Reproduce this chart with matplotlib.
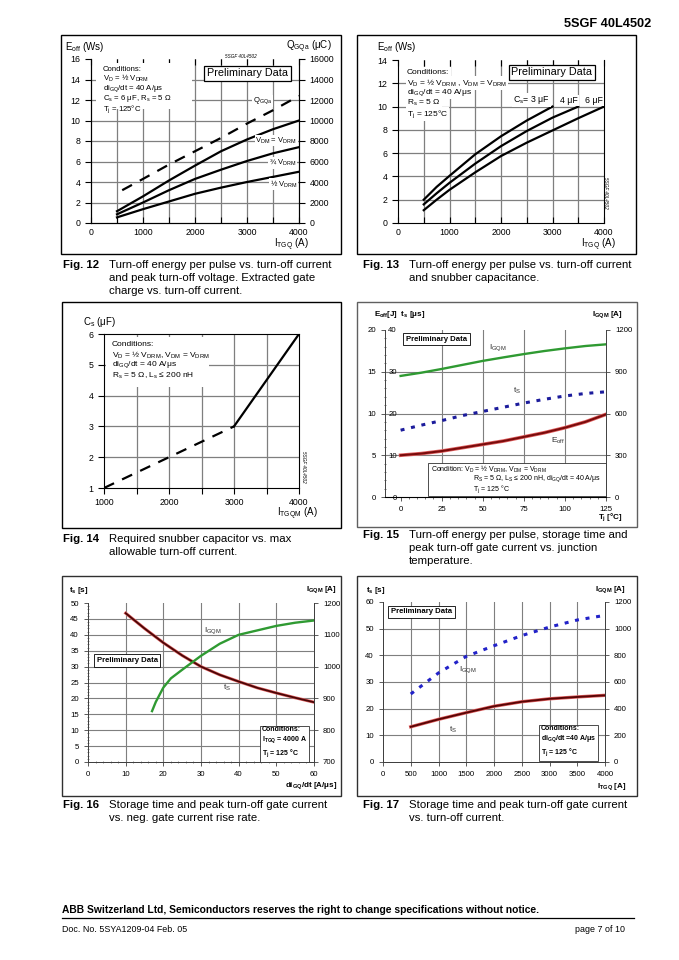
import matplotlib
matplotlib.use("Agg")
import matplotlib.pyplot as plt
from matplotlib.patches import Rectangle

plt.rcParams['font.family'] = ['Liberation Sans', 'DejaVu Sans']
plt.rcParams['mathtext.fontset'] = 'custom'
plt.rcParams['mathtext.rm'] = 'Liberation Sans'
plt.rcParams['mathtext.it'] = 'Liberation Sans:italic'
plt.rcParams['mathtext.bf'] = 'Liberation Sans:bold'
plt.rcParams['mathtext.default'] = 'regular'

# ---- data ----
# Fig 12: Eoff vs ITGQ for three VDM, plus extracted gate charge
i12 = [500, 1000, 1500, 2000, 2500, 3000, 3500, 4000]
eoff12_full = [1.15, 2.6, 4.15, 5.6, 7.0, 8.15, 9.15, 10.0]
eoff12_34 = [0.85, 2.0, 3.2, 4.3, 5.2, 6.05, 6.8, 7.4]
eoff12_12 = [0.55, 1.35, 2.1, 2.85, 3.45, 4.0, 4.5, 5.0]
i12_q = [600, 1000, 1500, 2000, 2500, 3000, 3500, 4000]
qgq12 = [3200, 4300, 5700, 7000, 8300, 9700, 11000, 12400]

# Fig 13: Eoff vs ITGQ for three snubber capacitors
i13 = [500, 750, 1000, 1500, 2000, 2500, 3000, 3500, 4000]
eoff13_3uf = [2.0, 3.1, 4.05, 5.9, 7.45, 8.8, 10.0]
eoff13_4uf = [1.6, 2.55, 3.45, 5.1, 6.6, 7.9, 9.05, 10.0]
eoff13_6uf = [1.1, 2.0, 2.85, 4.35, 5.75, 6.9, 7.95, 9.0, 10.0]

# Fig 14: required snubber capacitor
i14_dash = [1000, 3000]
cs14_dash = [1, 3]
i14_solid = [3000, 4000]
cs14_solid = [3, 6]

# Fig 15: vs junction temperature
tj15 = [0, 12.5, 25, 37.5, 50, 62.5, 75, 87.5, 100, 112.5, 125]
igqm15 = [870, 893, 920, 949, 978, 1003, 1027, 1049, 1068, 1085, 1097]
ts15 = [16.0, 17.2, 18.3, 19.5, 20.5, 21.5, 22.5, 23.4, 24.2, 24.8, 25.2]
eoff15 = [5.0, 5.2, 5.5, 5.9, 6.3, 6.7, 7.2, 7.7, 8.3, 9.0, 9.9]

# Fig 16: vs diGQ/dt
di16_ts = [10, 15, 20, 25, 30, 35, 40, 45, 50, 55, 60]
ts16 = [46.8, 42.0, 37.5, 33.5, 30.0, 27.4, 25.3, 23.3, 21.7, 20.2, 18.8]
di16_ig = [17, 18, 20, 22, 25, 30, 35, 40, 45, 50, 55, 60]
igqm16 = [860, 889, 934, 963, 990, 1034, 1072, 1100, 1114, 1128, 1138, 1145]

# Fig 17: vs ITGQ
itgq17 = [500, 1000, 1500, 2000, 2500, 3000, 3500, 4000]
ts17 = [13.2, 16.0, 18.5, 20.9, 22.6, 23.7, 24.4, 25.0]
igqm17 = [510, 668, 792, 872, 948, 1012, 1065, 1100]

W, H = 679, 960
GRID = '#7f7f7f'
fig = plt.figure(figsize=(W / 100, H / 100), dpi=100)
fig.patch.set_facecolor('white')


def axes_px(l, t, r, b):
    return fig.add_axes([l / W, 1 - b / H, (r - l) / W, (b - t) / H])


def ftext(x, y, s, **kw):
    kw.setdefault('va', 'center')
    return fig.text(x / W, 1 - y / H, s, **kw)


def frame(l, t, r, b, ec='black', lw=1.0, fill=False, z=1):
    fig.add_artist(Rectangle((l / W, 1 - b / H), (r - l) / W, (b - t) / H,
                             transform=fig.transFigure, fill=fill, fc='white',
                             ec=ec, lw=lw, zorder=z))


def caption(x, y, num, lines):
    ftext(x, y, 'Fig. %d' % num, fontsize=8.2, fontweight='bold')
    for k, s in enumerate(lines):
        ftext(x + 46, y + 13 * k, s, fontsize=8.2)


def grid(ax, xs, ys, lw=0.9):
    for x in xs:
        ax.axvline(x, color=GRID, lw=lw, zorder=0)
    for y in ys:
        ax.axhline(y, color=GRID, lw=lw, zorder=0)


prelim_big = dict(boxstyle='square,pad=0.25', fc='white', ec='black', lw=0.9)
prelim_small = dict(boxstyle='square,pad=0.35', fc='white', ec='black', lw=0.6)
white = dict(boxstyle='square,pad=0.1', fc='white', ec='none')

# header / footer
ftext(651, 24, '5SGF 40L4502', fontsize=9.2, fontweight='bold', ha='right')
ftext(62, 910, 'ABB Switzerland Ltd, Semiconductors reserves the right to change specifications without notice.',
      fontsize=7.4, fontweight='bold')
fig.add_artist(plt.Line2D([62 / W, 634 / W], [1 - 918 / H, 1 - 918 / H], color='black', lw=0.9,
                          transform=fig.transFigure))
ftext(62, 930, 'Doc. No. 5SYA1209-04 Feb. 05', fontsize=6.4)
ftext(625, 930, 'page 7 of 10', fontsize=6.4, ha='right')

# ---------------- Fig 12 ----------------
frame(61, 35, 341, 254)
ax = axes_px(91, 59, 299, 223)
ax.set_xlim(0, 4000)
ax.set_ylim(0, 16)
grid(ax, range(500, 4000, 500), range(2, 16, 2))
for ys in (eoff12_full, eoff12_34, eoff12_12):
    ax.plot(i12, ys, color='black', lw=1.6, zorder=3)
ax.set_xticks(range(0, 4001, 1000))
ax.set_xticks(range(500, 4000, 1000), minor=True)
ax.set_yticks(range(0, 17, 2))
ax.tick_params(axis='x', which='both', direction='in', length=4, top=True, labelsize=6.3, width=0.8)
ax.tick_params(axis='y', direction='out', length=4, labelsize=6.3, width=0.8)
axq = ax.twinx()
axq.set_ylim(0, 16000)
axq.plot(i12_q, qgq12, color='black', lw=1.6, dashes=(5, 4))
axq.set_yticks(range(0, 16001, 2000))
axq.tick_params(direction='out', length=4, labelsize=6.3, width=0.8)
for a in (ax, axq):
    a.spines['top'].set_visible(False)
axq.text(3300, 11900, 'Q$_{GQa}$', fontsize=5.5, ha='center', va='center', bbox=white)
axq.text(3560, 8050, 'V$_{DM}$ = V$_{DRM}$', fontsize=5.5, ha='center', va='center', bbox=white)
axq.text(3680, 5850, '¾ V$_{DRM}$', fontsize=5.5, ha='center', va='center', bbox=white)
axq.text(3700, 3800, '½ V$_{DRM}$', fontsize=5.5, ha='center', va='center', bbox=white)
axq.text(3010, 14600, 'Preliminary Data', fontsize=7.8, ha='center', va='center', bbox=prelim_big)
ftext(241, 57, '5SGF 40L4502', fontsize=3.3, style='italic', ha='center')
frame(96, 63, 192, 109, ec='none', lw=0, fill=True, z=2)
ftext(103, 66, 'Conditions:\nV$_D$ = ½ V$_{DRM}$\ndi$_{GQ}$/dt = 40 A/μs\nC$_s$ = 6 μF, R$_s$ = 5 Ω\nT$_j$ = 125°C',
      fontsize=5.6, linespacing=0.92, va='top', zorder=3)
ftext(65, 47, 'E$_{off}$ (Ws)', fontsize=7)
ftext(332, 47, 'Q$_{GQa}$ (μC)', fontsize=7, ha='right')
ftext(309, 245, 'I$_{TGQ}$ (A)', fontsize=7, ha='right')
caption(63, 265, 12, ['Turn-off energy per pulse vs. turn-off current',
                      'and peak turn-off voltage. Extracted gate',
                      'charge vs. turn-off current.'])

# ---------------- Fig 13 ----------------
frame(357, 35, 636, 254)
ax = axes_px(398, 60, 604, 223)
ax.set_xlim(0, 4000)
ax.set_ylim(0, 14)
grid(ax, range(500, 4000, 500), range(2, 14, 2))
ax.plot(i13[:len(eoff13_3uf)], eoff13_3uf, color='black', lw=1.6)
ax.plot(i13[:len(eoff13_4uf)], eoff13_4uf, color='black', lw=1.6)
ax.plot(i13[:len(eoff13_6uf)], eoff13_6uf, color='black', lw=1.6)
ax.set_xticks(range(0, 4001, 1000))
ax.set_xticks(range(500, 4000, 1000), minor=True)
ax.set_yticks(range(0, 15, 2))
ax.tick_params(axis='x', which='both', direction='in', length=4, top=True, labelsize=6.3, width=0.8)
ax.tick_params(axis='y', direction='out', length=4, labelsize=6.3, width=0.8)
ax.spines['top'].set_visible(False)
ax.text(2950, 10.55, 'C$_s$= 3 μF', fontsize=6.3, ha='right', va='center', bbox=white)
ax.text(3495, 10.55, '4 μF', fontsize=6.3, ha='right', va='center', bbox=white)
ax.text(3985, 10.55, '6 μF', fontsize=6.3, ha='right', va='center', bbox=white)
ax.text(2990, 12.95, 'Preliminary Data', fontsize=7.8, ha='center', va='center', bbox=prelim_big)
cond13 = ['Conditions:', 'V$_D$ = ½ V$_{DRM}$ , V$_{DM}$ = V$_{DRM}$', 'di$_{GQ}$/dt = 40 A/μs',
          'R$_s$ = 5 Ω', 'T$_j$ = 125°C']
for s, y in zip(cond13, [72, 83, 92.5, 103, 114]):
    ftext(407, y, s, fontsize=6.0, bbox=dict(boxstyle='square,pad=0.15', fc='white', ec='none'))
ftext(605, 193, '5SGF 40L4502', fontsize=3.3, style='italic', rotation=270, ha='center')
ftext(377, 47, 'E$_{off}$ (Ws)', fontsize=7)
ftext(616, 245, 'I$_{TGQ}$ (A)', fontsize=7, ha='right')
caption(363, 265, 13, ['Turn-off energy per pulse vs. turn-off current',
                       'and snubber capacitance.'])

# ---------------- Fig 14 ----------------
frame(62, 302, 341, 528)
ax = axes_px(104, 334, 299, 488)
ax.set_xlim(1000, 4000)
ax.set_ylim(1, 6)
grid(ax, range(1500, 4000, 500), range(2, 6))
ax.plot(i14_dash, cs14_dash, color='black', lw=1.6, dashes=(5, 4))
ax.plot(i14_solid, cs14_solid, color='black', lw=1.6)
ax.set_xticks(range(1000, 4001, 1000))
ax.set_xticks(range(1500, 4000, 1000), minor=True)
ax.set_yticks(range(1, 7))
ax.tick_params(axis='both', which='both', direction='out', length=4, labelsize=6.3, width=0.8)
frame(106, 337, 209, 387, ec='none', lw=0, fill=True, z=2)
cond14 = ['Conditions:', 'V$_D$ = ½ V$_{DRM}$, V$_{DM}$ = V$_{DRM}$', 'di$_{GQ}$/dt = 40 A/μs',
          'R$_s$ = 5 Ω, L$_s$ ≤ 200 nH']
for s, y in zip(cond14, [344, 355.5, 365, 376]):
    ftext(112, y, s, fontsize=6.0, zorder=3)
ftext(303, 467, '5SGF 40L4502', fontsize=3.3, style='italic', rotation=270, ha='center')
ftext(83, 322, 'C$_s$ (μF)', fontsize=7)
ftext(318, 514, 'I$_{TGQM}$ (A)', fontsize=7, ha='right')
caption(63, 539, 14, ['Required snubber capacitor vs. max',
                      'allowable turn-off current.'])

# ---------------- Fig 15 ----------------
frame(357, 302, 637, 527, ec='#606060')
ax = axes_px(385, 330, 606, 497)
ax.set_xlim(-9.5, 125)
ax.set_ylim(0, 40)
grid(ax, [25, 50, 75, 100], [10, 20, 30], lw=0.8)
ax.plot(tj15, ts15, color='#1c1c9c', lw=2.2, dashes=(1.3, 2.2))
ax.set_xticks([0, 25, 50, 75, 100, 125])
ax.set_xticks(range(0, 126, 5), minor=True)
ax.set_yticks(range(0, 41, 10))
ax.set_yticks(range(0, 41, 2), minor=True)
ax.tick_params(axis='x', which='major', direction='out', length=3, labelsize=5.6, width=0.6, color='#404040')
ax.tick_params(axis='x', which='minor', direction='out', length=1.5, width=0.5, color='#404040')
ax.tick_params(axis='y', which='major', direction='in', length=0, pad=-8.5, labelsize=5.6)
ax.tick_params(axis='y', which='minor', direction='inout', length=2, width=0.5, color='#404040')
for lab in ax.get_yticklabels():
    lab.set_horizontalalignment('right')
ax.spines['top'].set_visible(False)
ax.spines['right'].set_visible(False)
for s in ('left', 'bottom'):
    ax.spines[s].set_color('#404040')
    ax.spines[s].set_linewidth(0.7)
axe = ax.twinx()
axe.set_ylim(0, 20)
axe.yaxis.tick_left()
axe.plot(tj15, eoff15, color='#e06060', lw=2.6)
axe.plot(tj15, eoff15, color='#7a0c0c', lw=1.5)
axe.set_yticks(range(0, 21, 5))
axe.tick_params(axis='y', direction='out', length=3, labelsize=5.6, width=0.6, color='#404040')
for s in ('top', 'right', 'bottom', 'left'):
    axe.spines[s].set_visible(False)
axi = ax.twinx()
axi.set_ylim(0, 1200)
axi.plot(tj15, igqm15, color='#2f9a32', lw=1.7)
axi.set_yticks(range(0, 1201, 300))
axi.tick_params(axis='y', direction='out', length=3, labelsize=5.6, width=0.6, color='#404040')
axi.spines['top'].set_visible(False)
axi.spines['left'].set_visible(False)
axi.spines['right'].set_color('#404040')
axi.spines['right'].set_linewidth(0.7)
axi.text(59, 1070, 'I$_{GQM}$', fontsize=6, ha='center', va='center', color='#303030')
axi.text(71, 763, 't$_S$', fontsize=6, ha='center', va='center', color='#303030')
axi.text(96, 402, 'E$_{off}$', fontsize=6, ha='center', va='center', color='#303030')
axi.text(21.7, 1134, 'Preliminary Data', fontsize=5.6, fontweight='bold', ha='center', va='center',
         bbox=prelim_small)
frame(428, 463, 606, 496, ec='#303030', lw=0.6, fill=True, z=2)
ftext(431, 469, 'Condition: V$_D$ = ½ V$_{DRM}$, V$_{DM}$ = V$_{DRM}$', fontsize=5, zorder=3)
ftext(473, 479, 'R$_S$ = 5 Ω, L$_S$ ≤ 200 nH, di$_{GQ}$/dt = 40 A/μs', fontsize=5, zorder=3)
ftext(473, 489, 'T$_j$ = 125 °C', fontsize=5, zorder=3)
ftext(374, 315, 'E$_{off}$[J]  t$_s$ [μs]', fontsize=5.8, fontweight='bold')
ftext(623, 315, 'I$_{GQM}$ [A]', fontsize=5.8, fontweight='bold', ha='right')
ftext(623, 517, 'T$_j$ [°C]', fontsize=5.8, fontweight='bold', ha='right')
caption(363, 535, 15, ['Turn-off energy per pulse, storage time and',
                       'peak turn-off gate current vs. junction',
                       'temperature.'])

# ---------------- Fig 16 ----------------
frame(62, 576, 341, 796, ec='#303030')
ax = axes_px(88, 603, 314, 762)
ax.set_xlim(0, 60)
ax.set_ylim(0, 50)
grid(ax, range(10, 60, 10), range(5, 50, 5), lw=0.8)
ax.plot(di16_ts, ts16, color='#e06060', lw=2.2)
ax.plot(di16_ts, ts16, color='#4a0606', lw=1.3)
ax.set_xticks(range(0, 61, 10))
ax.set_xticks(range(0, 61, 2), minor=True)
ax.set_yticks(range(0, 51, 5))
ax.set_yticks(range(0, 51, 1), minor=True)
ax.tick_params(axis='both', which='major', direction='out', length=3, labelsize=5.6, width=0.6, color='#404040')
ax.tick_params(axis='both', which='minor', direction='inout', length=1.8, width=0.4, color='#404040')
axi = ax.twinx()
axi.set_ylim(700, 1200)
axi.plot(di16_ig, igqm16, color='#2f9a32', lw=1.7)
axi.set_yticks(range(700, 1201, 100))
axi.tick_params(axis='y', direction='out', length=3, labelsize=5.6, width=0.6, color='#404040')
for a in (ax, axi):
    a.spines['top'].set_visible(False)
    for s in ('left', 'right', 'bottom'):
        a.spines[s].set_color('#404040')
        a.spines[s].set_linewidth(0.7)
ax.text(33.2, 41.2, 'I$_{GQM}$', fontsize=6, ha='center', va='center', color='#303030')
ax.text(36.9, 23.3, 't$_S$', fontsize=6, ha='center', va='center', color='#303030')
ax.text(10.4, 31.9, 'Preliminary Data', fontsize=5.6, fontweight='bold', ha='center', va='center',
        bbox=prelim_small)
ftext(262, 742.5, 'Conditions:\nI$_{TGQ}$ = 4000 A\nT$_j$ = 125 °C', fontsize=5.0, fontweight='bold',
      linespacing=1.3, bbox=dict(boxstyle='square,pad=0.3', fc='white', ec='#303030', lw=0.6))
ftext(69, 590, 't$_s$ [s]', fontsize=5.8, fontweight='bold')
ftext(337, 590, 'I$_{GQM}$ [A]', fontsize=5.8, fontweight='bold', ha='right')
ftext(337, 786, 'di$_{GQ}$/dt [A/μs]', fontsize=5.8, fontweight='bold', ha='right')
caption(63, 805, 16, ['Storage time and peak turn-off gate current',
                      'vs. neg. gate current rise rate.'])

# ---------------- Fig 17 ----------------
frame(357, 576, 637, 796, ec='#303030')
ax = axes_px(383, 602, 605, 762)
ax.set_xlim(0, 4000)
ax.set_ylim(0, 60)
grid(ax, range(500, 4000, 500), range(10, 60, 10), lw=0.8)
ax.plot(itgq17, ts17, color='#e06060', lw=2.4)
ax.plot(itgq17, ts17, color='#5a0505', lw=1.4)
ax.set_xticks(range(0, 4001, 500))
ax.set_yticks(range(0, 61, 10))
ax.tick_params(axis='both', direction='out', length=3, labelsize=5.6, width=0.6, color='#404040')
axi = ax.twinx()
axi.set_ylim(0, 1200)
axi.plot(itgq17, igqm17, color='#2222c8', lw=2.2, dashes=(1.3, 2.2))
axi.set_yticks(range(0, 1201, 200))
axi.tick_params(axis='y', direction='out', length=3, labelsize=5.6, width=0.6, color='#404040')
for a in (ax, axi):
    a.spines['top'].set_visible(False)
    for s in ('left', 'right', 'bottom'):
        a.spines[s].set_color('#404040')
        a.spines[s].set_linewidth(0.7)
ax.text(1530, 34.5, 'I$_{GQM}$', fontsize=6, ha='center', va='center', color='#303030')
ax.text(1260, 12, 't$_S$', fontsize=6, ha='center', va='center', color='#303030')
ax.text(690, 56.3, 'Preliminary Data', fontsize=5.6, fontweight='bold', ha='center', va='center',
        bbox=prelim_small)
ftext(541, 741.5, 'Conditions:\ndi$_{GQ}$/dt =40 A/μs\nT$_j$ = 125 °C', fontsize=5.0, fontweight='bold',
      linespacing=1.3, bbox=dict(boxstyle='square,pad=0.3', fc='white', ec='#303030', lw=0.6))
ftext(366, 590, 't$_s$ [s]', fontsize=5.8, fontweight='bold')
ftext(626, 590, 'I$_{GQM}$ [A]', fontsize=5.8, fontweight='bold', ha='right')
ftext(626, 787, 'I$_{TGQ}$ [A]', fontsize=5.8, fontweight='bold', ha='right')
caption(363, 805, 17, ['Storage time and peak turn-off gate current',
                       'vs. turn-off current.'])

fig.savefig('out.png', dpi=100, facecolor='white')
